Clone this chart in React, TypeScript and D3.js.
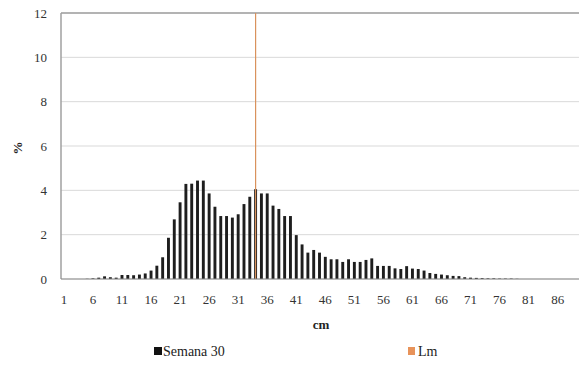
import React from "react";
import * as d3 from "d3";

const categories: number[] = d3.range(1, 90);
const semana30: number[] = [
  0, 0, 0, 0, 0.01, 0.03, 0.06, 0.12, 0.08, 0.06,
  0.18, 0.18, 0.17, 0.2, 0.25, 0.38, 0.6, 0.98, 1.86, 2.69,
  3.46, 4.29, 4.3, 4.44, 4.44, 3.86, 3.26, 2.84, 2.84, 2.77,
  2.92, 3.38, 3.71, 4.05, 3.86, 3.86, 3.31, 3.16, 2.84, 2.84,
  1.98, 1.56, 1.19, 1.31, 1.19, 1.0, 0.89, 0.89, 0.77, 0.89,
  0.77, 0.77, 0.86, 0.93, 0.59, 0.59, 0.59, 0.48, 0.45, 0.58,
  0.47, 0.45, 0.38, 0.27, 0.23, 0.2, 0.17, 0.14, 0.13, 0.08,
  0.06, 0.05, 0.04, 0.03, 0.03, 0.02, 0.02, 0.02, 0.01, 0,
  0, 0, 0, 0, 0, 0, 0, 0, 0,
];
const lmCategory = 34;
const lmValue = 12;
const yTicks: number[] = [0, 2, 4, 6, 8, 10, 12];
const xTickLabels: number[] = d3.range(1, 90, 5);
const seriesNames = ["Semana 30", "Lm"];

const W = 579;
const H = 372;
const left = 61;
const right = 578;
const top = 13;
const bottom = 279;
const font = "'Times New Roman', 'Liberation Serif', Tinos, 'Noto Serif', 'DejaVu Serif', serif";

export default function App() {
  const x = d3.scaleBand<number>().domain(categories).range([left, right]).paddingInner(0.5).paddingOuter(0.25);
  const y = d3.scaleLinear().domain([0, 12]).range([bottom, top]);
  const bw = x.bandwidth();
  return (
    <svg width={W} height={H} style={{ position: "absolute", left: 0, top: 0, background: "#fff" }}>
      {yTicks.map((t) => (
        <g key={t}>
          <line x1={left} x2={W} y1={y(t)} y2={y(t)} stroke={t === 12 ? "#9a9a9a" : "#d9d9d9"} strokeWidth={t === 12 ? 1.5 : 1} />
          <text x={47} y={y(t) + 4.5} textAnchor="end" fontSize={13} fill="#333" style={{ fontFamily: font }}>{t}</text>
        </g>
      ))}
      <line x1={left} x2={left} y1={top} y2={bottom} stroke="#a0a0a0" strokeWidth={1.5} />
      {categories.map((c, i) => {
        const v = semana30[i];
        return (
          <rect key={c} x={(x(c) as number)} y={y(v)} width={bw} height={bottom - y(v)} fill="#1e1e1e" />
        );
      })}
      <rect x={(x(lmCategory) as number) + bw / 2 - 0.6} y={y(lmValue)} width={1.2} height={bottom - y(lmValue)} fill="#d9925c" />
      <line x1={left} x2={W} y1={bottom} y2={bottom} stroke="#8a8a8a" strokeWidth={1.2} />
      {xTickLabels.map((c) => (
        <text key={c} x={(x(c) as number) + bw / 2} y={304} textAnchor="middle" fontSize={13} fill="#333" style={{ fontFamily: font }}>{c}</text>
      ))}
      <text x={321} y={329} textAnchor="middle" fontSize={13} fontWeight="bold" fill="#222" style={{ fontFamily: font }}>cm</text>
      <text transform={`translate(22,148) rotate(-90)`} textAnchor="middle" fontSize={13} fontWeight="bold" fill="#222" style={{ fontFamily: font }}>%</text>
      <rect x={154} y={347} width={8} height={8} fill="#111" />
      <text x={163} y={356} fontSize={14} fill="#222" style={{ fontFamily: font }}>{seriesNames[0]}</text>
      <rect x={408} y={347} width={7} height={8} fill="#e8935a" />
      <text x={418} y={356} fontSize={14} fill="#222" style={{ fontFamily: font }}>{seriesNames[1]}</text>
    </svg>
  );
}
